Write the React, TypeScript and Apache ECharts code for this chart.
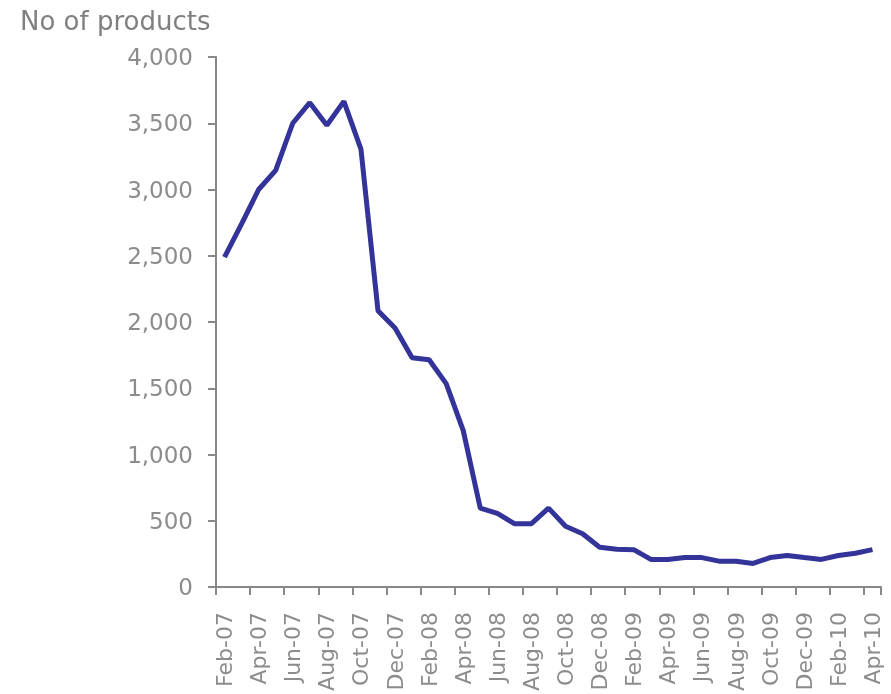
import React, { useEffect, useRef } from "react";
import * as echarts from "echarts";

const categories = [
  "Feb-07", "Mar-07", "Apr-07", "May-07", "Jun-07", "Jul-07", "Aug-07", "Sep-07", "Oct-07", "Nov-07", "Dec-07",
  "Jan-08", "Feb-08", "Mar-08", "Apr-08", "May-08", "Jun-08", "Jul-08", "Aug-08", "Sep-08", "Oct-08", "Nov-08", "Dec-08",
  "Jan-09", "Feb-09", "Mar-09", "Apr-09", "May-09", "Jun-09", "Jul-09", "Aug-09", "Sep-09", "Oct-09", "Nov-09", "Dec-09",
  "Jan-10", "Feb-10", "Mar-10", "Apr-10",
];

const products = [
  2490, 2740, 3000, 3145, 3500, 3655, 3485, 3665, 3305, 2085, 1955,
  1730, 1715, 1535, 1180, 595, 555, 478, 478, 595, 458, 402, 300,
  285, 282, 208, 208, 222, 222, 195, 195, 178, 222, 238, 222,
  208, 238, 255, 282,
];

const yTicks = { min: 0, max: 4000, interval: 500 };
const yAxisTitle = "No of products";

export default function App() {
  const ref = useRef<HTMLDivElement>(null);
  useEffect(() => {
    if (!ref.current) return;
    const chart = echarts.init(ref.current, undefined, { renderer: "svg" });
    const gray = "#8c8c8c";
    const axisGray = "#888888";
    const font = "'DejaVu Sans', Verdana, sans-serif";
    chart.setOption({
      animation: false,
      grid: { left: 216, right: 10, top: 57, bottom: 107, containLabel: false },
      graphic: [
        {
          type: "text",
          left: 20,
          top: 8,
          style: { text: yAxisTitle, fill: "#7f7f7f", fontSize: 26, fontFamily: font },
        },
      ],
      xAxis: {
        type: "category",
        data: categories,
        boundaryGap: true,
        axisLine: { lineStyle: { color: axisGray, width: 2 } },
        axisTick: { show: true, interval: 1, length: 8, lineStyle: { color: axisGray, width: 2 } },
        axisLabel: {
          interval: 1,
          rotate: 90,
          margin: 25,
          color: gray,
          fontSize: 22,
          fontFamily: font,
        },
      },
      yAxis: {
        type: "value",
        min: yTicks.min,
        max: yTicks.max,
        interval: yTicks.interval,
        splitLine: { show: false },
        axisLine: { show: true, lineStyle: { color: axisGray, width: 2 } },
        axisTick: { show: true, length: 8, lineStyle: { color: axisGray, width: 2 } },
        axisLabel: {
          margin: 23,
          color: gray,
          fontSize: 23,
          fontFamily: font,
          formatter: (v: number) => v.toLocaleString("en-US"),
        },
      },
      series: [
        {
          type: "line",
          data: products,
          showSymbol: false,
          symbol: "none",
          lineStyle: { color: "#333399", width: 5 },
        },
      ],
    });
    return () => chart.dispose();
  }, []);
  return (
    <div
      ref={ref}
      style={{ position: "fixed", left: 0, top: 0, width: 891, height: 694 }}
    />
  );
}
